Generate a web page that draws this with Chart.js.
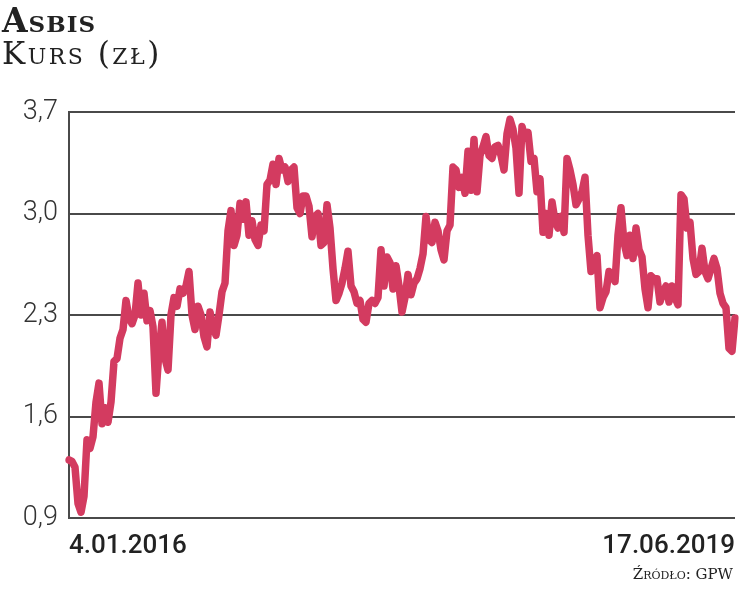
<!DOCTYPE html>
<html>
<head>
<meta charset="utf-8">
<script src="https://cdn.jsdelivr.net/npm/chart.js@4"></script>
<style>
  body { margin: 0; background: #fff; }
  #wrap { position: relative; width: 741px; height: 593px; }
  #chart { position: absolute; left: 0; top: 0; }
  .txt { position: absolute; font-family: "DejaVu Serif", "Liberation Serif", serif; font-variant: small-caps; color: #222; white-space: nowrap; line-height: 1; }
  #t1 { left: 2px; top: 4px; font-size: 33px; font-weight: bold; letter-spacing: 1px; }
  #t2 { left: 2px; top: 38px; font-size: 31px; letter-spacing: 2.5px; }
  #src { right: 8px; top: 567px; font-size: 15px; }
</style>
</head>
<body>
<div id="wrap">
  <canvas id="chart" width="741" height="593"></canvas>
  <div class="txt" id="t1">Asbis</div>
  <div class="txt" id="t2">Kurs (zł)</div>
  <div class="txt" id="src">Źródło: GPW</div>
</div>
<script>
// share price, 4.01.2016 - 17.06.2019
const prices = [
  1.30, 1.29, 1.25, 1.00, 0.94, 1.05, 1.44, 1.38, 1.46, 1.70,
  1.83, 1.55, 1.66, 1.56, 1.70, 1.98, 2.00, 2.14, 2.20, 2.40,
  2.28, 2.24, 2.30, 2.52, 2.30, 2.45, 2.26, 2.33, 2.22, 1.76,
  2.05, 2.25, 2.00, 1.92, 2.30, 2.42, 2.36, 2.48, 2.45, 2.50,
  2.60, 2.30, 2.20, 2.36, 2.30, 2.15, 2.08, 2.32, 2.22, 2.16,
  2.30, 2.46, 2.52, 2.88, 3.02, 2.78, 2.85, 3.07, 2.96, 3.08,
  2.85, 2.95, 2.82, 2.78, 2.92, 2.88, 3.20, 3.23, 3.34, 3.20,
  3.38, 3.30, 3.32, 3.22, 3.30, 3.32, 3.04, 3.00, 3.12, 3.12,
  3.05, 2.84, 2.98, 3.00, 2.78, 2.80, 3.06, 2.90, 2.62, 2.40,
  2.45, 2.52, 2.62, 2.74, 2.50, 2.46, 2.38, 2.40, 2.27, 2.25,
  2.38, 2.40, 2.38, 2.42, 2.75, 2.50, 2.70, 2.66, 2.48, 2.64,
  2.50, 2.32, 2.42, 2.58, 2.44, 2.52, 2.55, 2.62, 2.72, 2.98,
  2.82, 2.80, 2.94, 2.88, 2.75, 2.68, 2.88, 2.92, 3.32, 3.30,
  3.18, 3.25, 3.14, 3.43, 3.16, 3.51, 3.15, 3.40, 3.46, 3.53,
  3.40, 3.38, 3.46, 3.47, 3.40, 3.30, 3.55, 3.65, 3.58, 3.45,
  3.14, 3.60, 3.52, 3.56, 3.36, 3.38, 3.15, 3.24, 2.87, 3.00,
  2.85, 3.08, 2.95, 2.90, 2.98, 2.87, 3.38, 3.30, 3.20, 3.06,
  3.10, 3.15, 3.25, 2.85, 2.60, 2.65, 2.71, 2.35, 2.42, 2.46,
  2.60, 2.58, 2.53, 2.85, 3.04, 2.80, 2.71, 2.85, 2.69, 2.90,
  2.75, 2.70, 2.48, 2.35, 2.57, 2.55, 2.55, 2.39, 2.46, 2.50,
  2.39, 2.50, 2.42, 2.37, 3.13, 3.10, 2.90, 2.94, 2.69, 2.58,
  2.60, 2.76, 2.60, 2.55, 2.62, 2.69, 2.62, 2.45, 2.38, 2.35,
  2.07, 2.05, 2.28
];
const xTickLabels = ["4.01.2016", "17.06.2019"];
const yTicks = [0.9, 1.6, 2.3, 3.0, 3.7];

const lineColor = "#d33b60";
const gridColor = "#4a4a4a";

const labels = prices.map((p, i) => i);

new Chart(document.getElementById("chart").getContext("2d"), {
  type: "line",
  data: {
    labels: labels,
    datasets: [{
      data: prices,
      borderColor: lineColor,
      borderWidth: 7.5,
      borderJoinStyle: "round",
      borderCapStyle: "round",
      pointRadius: 0,
      tension: 0,
      fill: false
    }]
  },
  options: {
    responsive: false,
    animation: false,
    layout: { padding: { left: 0, right: 6, top: 112, bottom: 0 } },
    plugins: { legend: { display: false }, tooltip: { enabled: false } },
    scales: {
      x: {
        type: "category",
        offset: false,
        grid: { display: false },
        border: { display: false },
        afterFit: function (scale) { scale.height = 75; },
        ticks: {
          autoSkip: false,
          maxRotation: 0,
          align: "inner",
          padding: 5,
          color: "#222",
          font: { family: "Roboto", size: 26, weight: 500 },
          callback: function (v, i) {
            if (i === 0) return xTickLabels[0];
            if (i === prices.length - 1) return xTickLabels[1];
            return "";
          }
        }
      },
      y: {
        min: 0.9,
        max: 3.7,
        afterFit: function (scale) { scale.width = 69; },
        afterBuildTicks: function (scale) {
          scale.ticks = yTicks.map(v => ({ value: v }));
        },
        grid: { color: gridColor, lineWidth: 2, drawTicks: false },
        border: { display: true, color: gridColor, width: 2 },
        ticks: {
          padding: 11,
          color: "#333",
          font: { family: "Roboto", size: 27, weight: 300 },
          callback: function (v) { return v.toFixed(1).replace(".", ","); }
        }
      }
    }
  }
});
</script>
</body>
</html>
